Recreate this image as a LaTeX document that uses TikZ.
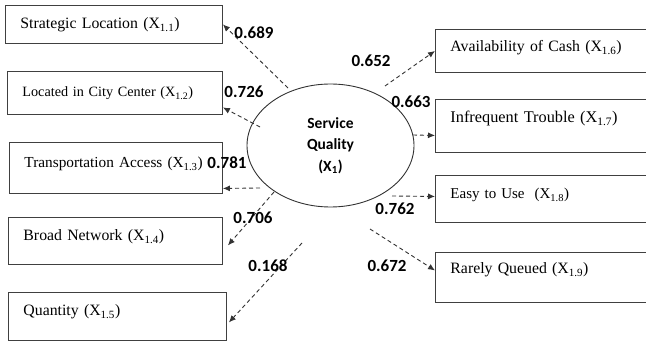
\documentclass[tikz,border=0pt]{standalone}
\usepackage{fontspec}
\setmainfont{Liberation Serif}
\newfontfamily\calibri{Carlito}
\usetikzlibrary{shapes.geometric,arrows.meta,calc}

\tikzset{
  indicator/.style={draw=black!75,line width=0.9pt,anchor=north west,inner xsep=15pt,inner ysep=0pt,
    align=left,font=\fontsize{15.8}{18}\selectfont},
  latent/.style={draw=black!80,line width=0.9pt,ellipse,minimum width=167pt,minimum height=123pt,
    inner sep=0pt,align=center,font=\calibri\bfseries\fontsize{15.5}{21.5}\selectfont},
  loading/.style={draw=black!80,line width=0.9pt,dash pattern=on 4pt off 3pt,-{Latex[length=7pt,width=6pt]}},
  coef/.style={font=\calibri\bfseries\fontsize{17}{20}\selectfont,inner sep=0pt}
}

\begin{document}
\begin{tikzpicture}[x=1pt,y=-1pt]
    \clip (0,0) rectangle (646,342);

    % latent variable
    \node[latent] (sq) at (330.5,145.5) {Service\\Quality\\(X\textsubscript{1})};

    % indicators, left column
    \node[indicator,text width=187pt,text height=23.5pt,text depth=14.5pt] (b1) at (5,5) {Strategic Location (X\textsubscript{1.1})};
    \node[indicator,text width=185pt,text height=25.5pt,text depth=17.5pt,font=\fontsize{14.2}{17}\selectfont] (b2) at (7,71) {Located in City Center (X\textsubscript{1.2})};
    \node[indicator,text width=183pt,text height=25.5pt,text depth=25.5pt,font=\fontsize{15.3}{18}\selectfont] (b3) at (9,142) {Transportation Access (X\textsubscript{1.3})};
    \node[indicator,text width=184pt,text height=23.5pt,text depth=23.5pt] (b4) at (8,217) {Broad Network (X\textsubscript{1.4})};
    \node[indicator,text width=188pt,text height=23.5pt,text depth=24.5pt] (b5) at (8,292) {Quantity (X\textsubscript{1.5})};

    % indicators, right column
    \node[indicator,text width=195pt,text height=22.5pt,text depth=20.5pt] (b6) at (435,29) {Availability of Cash (X\textsubscript{1.6})};
    \node[indicator,text width=195pt,text height=23.5pt,text depth=29.5pt,font=\fontsize{16.3}{19}\selectfont] (b7) at (435,99) {Infrequent Trouble (X\textsubscript{1.7})};
    \node[indicator,text width=195pt,text height=23.5pt,text depth=23.5pt,font=\fontsize{15}{18}\selectfont] (b8) at (435,175) {Easy to Use\ \ (X\textsubscript{1.8})};
    \node[indicator,text width=195pt,text height=21.5pt,text depth=28.5pt] (b9) at (435,252) {Rarely Queued (X\textsubscript{1.9})};

    % loose ends of the loadings
    \coordinate (s1) at (288,88);
    \coordinate (s2) at (260,127);
    \coordinate (s3) at (260,188);
    \coordinate (s4) at (274,192);
    \coordinate (s5) at (302,243);
    \coordinate (s6) at (385,86);
    \coordinate (s7) at (413,135);
    \coordinate (s8) at (392,196);
    \coordinate (s9) at (370,229);

    \draw[loading] (s1) -- (b1.east);
    \draw[loading] (s2) -- ($(b2.east)+(0,14.5)$);
    \draw[loading] (s3) -- ($(b3.east)+(0,20.5)$);
    \draw[loading] (s4) -- ($(b4.east)+(5,4.5)$);
    \draw[loading] (s5) -- ($(b5.east)+(2,6)$);
    \draw[loading] (s6) -- (b6.west);
    \draw[loading] (s7) -- ($(b7.west)+(0,9.5)$);
    \draw[loading] (s8) -- ($(b8.west)+(0,-2.5)$);
    \draw[loading] (s9) -- ($(b9.west)+(0,-7)$);

    % loading values
    \node[coef] (l1) at (254,33) {0.689};
    \node[coef] (l2) at (244,92) {0.726};
    \node[coef] (l3) at (227,163) {0.781};
    \node[coef] (l4) at (253,218) {0.706};
    \node[coef] (l5) at (268,266) {0.168};
    \node[coef] (l6) at (371,61) {0.652};
    \node[coef] (l7) at (411,102) {0.663};
    \node[coef] (l8) at (395,209) {0.762};
    \node[coef] (l9) at (387,266) {0.672};
\end{tikzpicture}
\end{document}
